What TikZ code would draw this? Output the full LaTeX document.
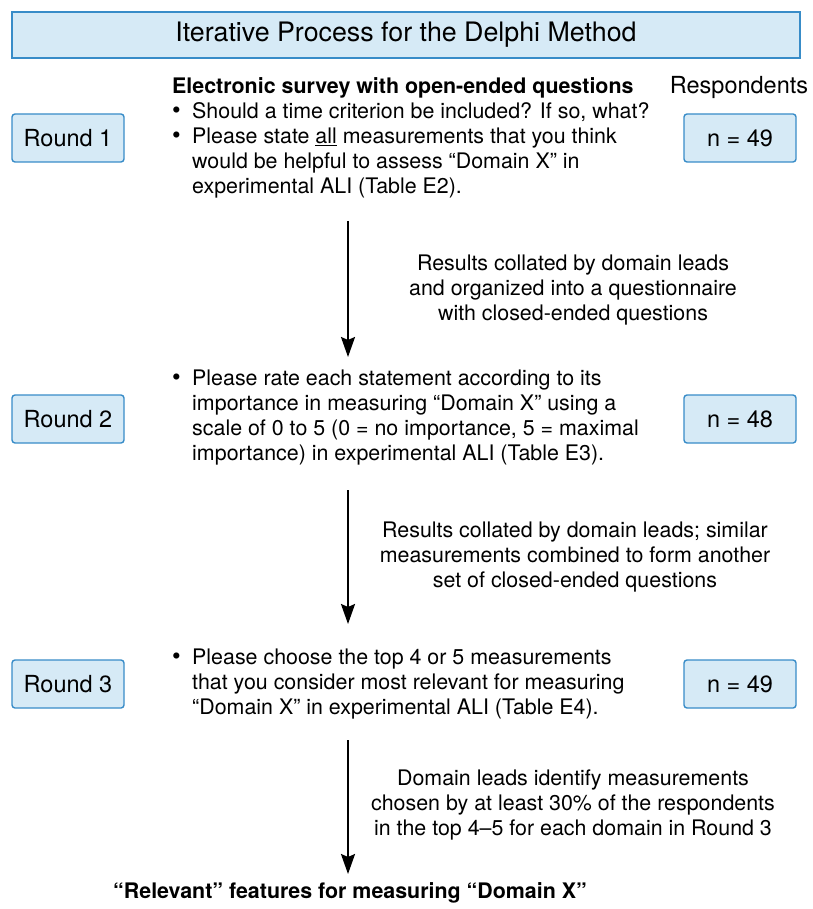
\documentclass[tikz,border=0pt]{standalone}
\usepackage{fontspec}
\setmainfont{TeX Gyre Heros}
\usetikzlibrary{arrows.meta}
\usetikzlibrary{positioning}

\definecolor{boxfill}{RGB}{214,234,246}
\definecolor{boxline}{RGB}{56,140,200}

\newcommand{\bul}{\makebox[20pt][l]{\raisebox{-.5pt}{\scalebox{1.15}{\textbullet}}}}
\newcommand{\ind}{\hspace*{20pt}}

\begin{document}
\begin{tikzpicture} [x=1pt, y=-1pt,
  box/.style={draw=boxline, fill=boxfill, line width=1.4pt, rounded corners=3pt,
    minimum width=112pt, minimum height=48pt, inner sep=0pt, font=\fontsize{23.5}{28}\selectfont},
  body/.style={inner sep=0pt, font=\fontsize{21.4}{25}\selectfont},
  flow/.style={line width=2pt, -{Stealth[length=20pt, width=14pt, inset=3pt]}}]
\useasboundingbox (0,0) rectangle (812,909);
% title
\node[draw=boxline, fill=boxfill, line width=1.4pt, minimum width=788pt, minimum height=46pt,
  font=\fontsize{26.8}{30}\selectfont] (title) at (406,35) {Iterative Process for the Delphi Method};
\node[body, font=\fontsize{23.5}{28}\selectfont, anchor=base] (resp) at (739,94) {Respondents};
\node[body, font=\bfseries\fontsize{21.4}{25}\selectfont, anchor=base west] (head) at (172,94)
  {Electronic survey with open-ended questions};

% round 1
\node[box] (r1) at (68,138) {Round 1};
\node[box] (n1) at (740,138) {n = 49};
\node[body, align=left, anchor=north west] (q1) at (172,100.5)
  {\bul\strut Should a time criterion be included? If so, what?\\
   \bul Please state \underline{all} measurements that you think\\
   \ind would be helpful to assess “Domain X” in\\
   \ind experimental ALI (Table E2).};
\node[body, align=center, anchor=north] (c1) at (573,252.5)
  {\strut Results collated by domain leads\\
   and organized into a questionnaire\\
   with closed-ended questions};

% round 2
\node[box] (r2) at (68,419) {Round 2};
\node[box] (n2) at (740,419) {n = 48};
\node[body, align=left, anchor=north west] (q2) at (172,367.5)
  {\bul\strut Please rate each statement according to its\\
   \ind importance in measuring “Domain X” using a\\
   \ind scale of 0 to 5 (0 = no importance, 5 = maximal\\
   \ind importance) in experimental ALI (Table E3).};
\node[body, align=center, anchor=north] (c2) at (575,519.5)
  {\strut Results collated by domain leads; similar\\
   measurements combined to form another\\
   set of closed-ended questions};

% round 3
\node[box] (r3) at (68,684) {Round 3};
\node[box] (n3) at (740,684) {n = 49};
\node[body, align=left, anchor=north west] (q3) at (172,646.5)
  {\bul\strut Please choose the top 4 or 5 measurements\\
   \ind that you consider most relevant for measuring\\
   \ind “Domain X” in experimental ALI (Table E4).};
\node[body, align=center, anchor=north] (c3) at (573,767.5)
  {\strut Domain leads identify measurements\\
   chosen by at least 30\% of the respondents\\
   in the top 4–5 for each domain in Round 3};

\node[body, font=\bfseries\fontsize{21.4}{25}\selectfont, anchor=base] (final) at (350,898)
  {“Relevant” features for measuring “Domain X”};

% arrows
\coordinate (a1) at (348,221);  \coordinate (b1) at (348,357);
\coordinate (a2) at (348,490);  \coordinate (b2) at (348,624);
\coordinate (a3) at (348,740);  \coordinate (b3) at (348,874);
\foreach \i in {1,2,3} {
 \draw[flow] (a\i)--(b\i);
}
\end{tikzpicture}
\end{document}
